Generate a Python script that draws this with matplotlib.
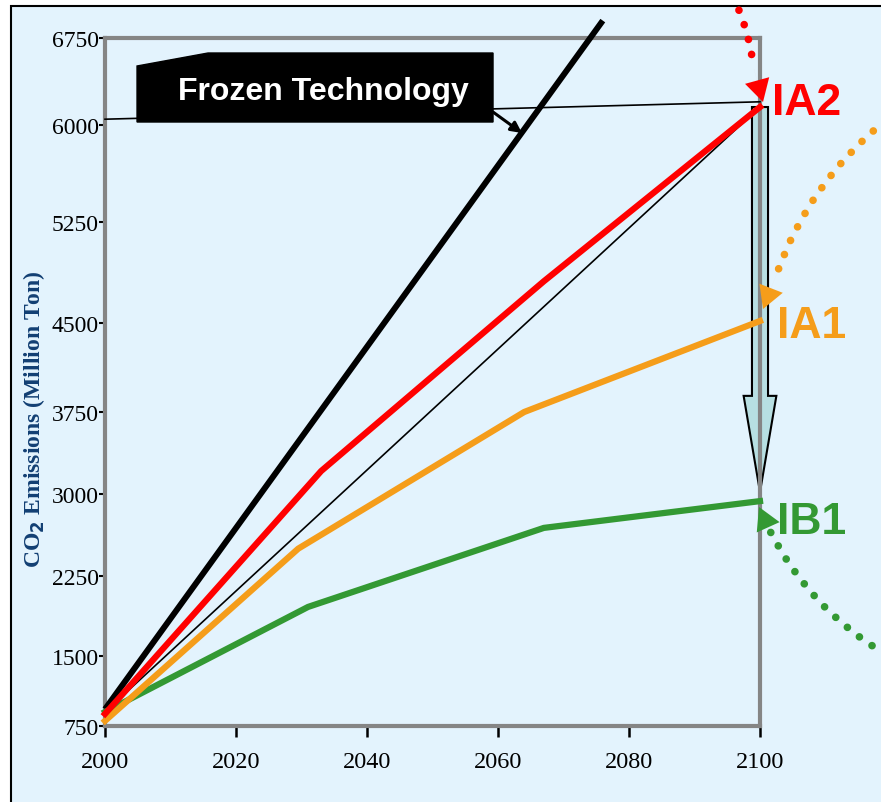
import numpy as np
import matplotlib.pyplot as plt
from matplotlib.patches import FancyArrow, Polygon, Rectangle

# emission paths (million ton CO2)
years_frozen = [2000, 2076]
co2_frozen = [930, 6900]

years_ia2 = [2000, 2033, 2067, 2100]
co2_ia2 = [880, 3210, 4810, 6155]

years_ia1 = [2000, 2029.5, 2064, 2100]
co2_ia1 = [805, 2500, 3750, 4515]

years_ib1 = [2000, 2031, 2067, 2100]
co2_ib1 = [900, 1960, 2690, 2935]

years_ref = [2000, 2100]
co2_ref = [900, 6155]

years_leader = [2000, 2100]
co2_leader = [6050, 6200]

xticks = [2000, 2020, 2040, 2060, 2080, 2100]
yticks = [750, 1500, 2250, 3000, 3750, 4500, 5250, 6000, 6750]

# the original axis has unevenly spaced ticks -> piecewise linear scale
tick_height = [0, 70, 150, 232, 314, 403, 504, 601, 688]
sv = [-1e5, 0] + yticks + [7500, 1e5]
su = [-70 - 1e5 * 70 / 750, -70] + tick_height + [775, 775 + (1e5 - 7500) * 87 / 750]

def fwd(v):
    return np.interp(v, sv, su)

def inv(u):
    return np.interp(u, su, sv)

bg = '#e3f3fd'
red = '#ff0000'
orange = '#f59d1a'
green = '#339933'

fig = plt.figure(figsize=(8.81, 8.03), dpi=100, facecolor='white')
fig.add_artist(Rectangle((11 / 881, -0.01), 1.0, 1 - 7 / 803 + 0.01,
                         transform=fig.transFigure, facecolor=bg,
                         edgecolor='black', lw=1.5, zorder=-10))

ax = fig.add_axes([105 / 881, 1 - 727 / 803, 655 / 881, 688 / 803])
ax.set_facecolor('none')
ax.set_yscale('function', functions=(fwd, inv))
ax.set_xlim(2000, 2100)
ax.set_ylim(750, 6750)
ax.set_xticks(xticks)
ax.set_yticks(yticks)

for s in ax.spines.values():
    s.set_color('#858585')
    s.set_linewidth(3)
ax.tick_params(axis='x', direction='out', length=8, width=1.8, color='black',
               labelsize=17.5, pad=10)
ax.tick_params(axis='y', direction='out', length=4, width=1.5, color='black',
               labelsize=17, pad=0.5)
for lab in ax.get_xticklabels() + ax.get_yticklabels():
    lab.set_fontfamily('Liberation Serif')

plt.rcParams['mathtext.fontset'] = 'stix'
ax.set_ylabel(r'CO$_\mathbf{2}$ Emissions (Million Ton)', fontfamily='Liberation Serif',
              fontweight='bold', fontsize=17, color='#123f73')
ax.yaxis.set_label_coords(-0.089, 0.447)

# big down arrow at 2100
ax.add_patch(FancyArrow(2100, 6155, 0, 3018 - 6155, width=2.45, head_width=5.0,
                        head_length=868, length_includes_head=True,
                        facecolor='#b7dfe2', edgecolor='black', lw=1.5,
                        clip_on=False, zorder=2))

ax.plot(years_frozen, co2_frozen, color='black', lw=4.3, zorder=3, clip_on=False,
        solid_capstyle='butt')
ax.plot(years_ref, co2_ref, color='black', lw=1.2, zorder=3)
ax.plot(years_leader, co2_leader, color='black', lw=1.2, zorder=3, clip_on=False)
ax.plot(years_ib1, co2_ib1, color=green, lw=4.5, zorder=3, clip_on=False)
ax.plot(years_ia1, co2_ia1, color=orange, lw=4.5, zorder=3, clip_on=False)
ax.plot(years_ia2, co2_ia2, color=red, lw=4.5, zorder=3, clip_on=False)

# Frozen Technology callout
box = Polygon([(0.0489, 0.9593), (0.1573, 0.9782), (0.5924, 0.9782),
               (0.5924, 0.8779), (0.0489, 0.8779)], closed=True,
              facecolor='black', edgecolor='black', transform=ax.transAxes,
              clip_on=False, zorder=5)
ax.add_patch(box)
ax.text(0.333, 0.923, 'Frozen Technology', transform=ax.transAxes, ha='center',
        va='center', color='white', fontsize=23, fontweight='bold',
        fontfamily='Liberation Sans', zorder=6)
ax.annotate('', xy=(0.6366, 0.8619), xytext=(0.5924, 0.8924),
            xycoords='axes fraction',
            arrowprops=dict(arrowstyle='-|>', color='black', lw=2.2,
                            mutation_scale=16, shrinkA=0, shrinkB=0), zorder=6)

# scenario labels
for txt, col, yy in [('IA2', red, 0.8895), ('IA1', orange, 0.5654), ('IB1', green, 0.2805)]:
    ax.text(1.018 if txt == 'IA2' else 1.026, yy, txt, transform=ax.transAxes,
            ha='left', va='baseline', color=col, fontsize=32, fontweight='bold',
            fontfamily='Liberation Sans', clip_on=False)

# dotted arcs with arrow heads
dot = dict(arrowstyle='-', lw=5.5, linestyle=(0, (0.01, 2.0)), capstyle='round',
           shrinkA=0, shrinkB=0)
arcs = [
    (red, (0.9588, 1.0610), (0.9908, 0.9549), -0.08, (1.0046, 0.9070)),
    (orange, (1.1908, 0.8794), (1.0260, 0.6584), 0.14, (1.0046, 0.6061)),
    (green, (1.1908, 0.1047), (1.0137, 0.2863), -0.145, (0.9985, 0.3183)),
]
for col, start, end, rad, tip in arcs:
    ax.annotate('', xy=end, xytext=start, xycoords='axes fraction',
                annotation_clip=False,
                arrowprops=dict(dot, color=col, connectionstyle=f'arc3,rad={rad}'),
                zorder=4)
    ax.annotate('', xy=tip, xytext=end, xycoords='axes fraction',
                annotation_clip=False,
                arrowprops=dict(arrowstyle='-|>,head_length=0.8,head_width=0.45',
                                color=col, lw=0.01, mutation_scale=20,
                                shrinkA=0, shrinkB=0), zorder=4)

fig.savefig('out.png', dpi=100, facecolor=fig.get_facecolor())
